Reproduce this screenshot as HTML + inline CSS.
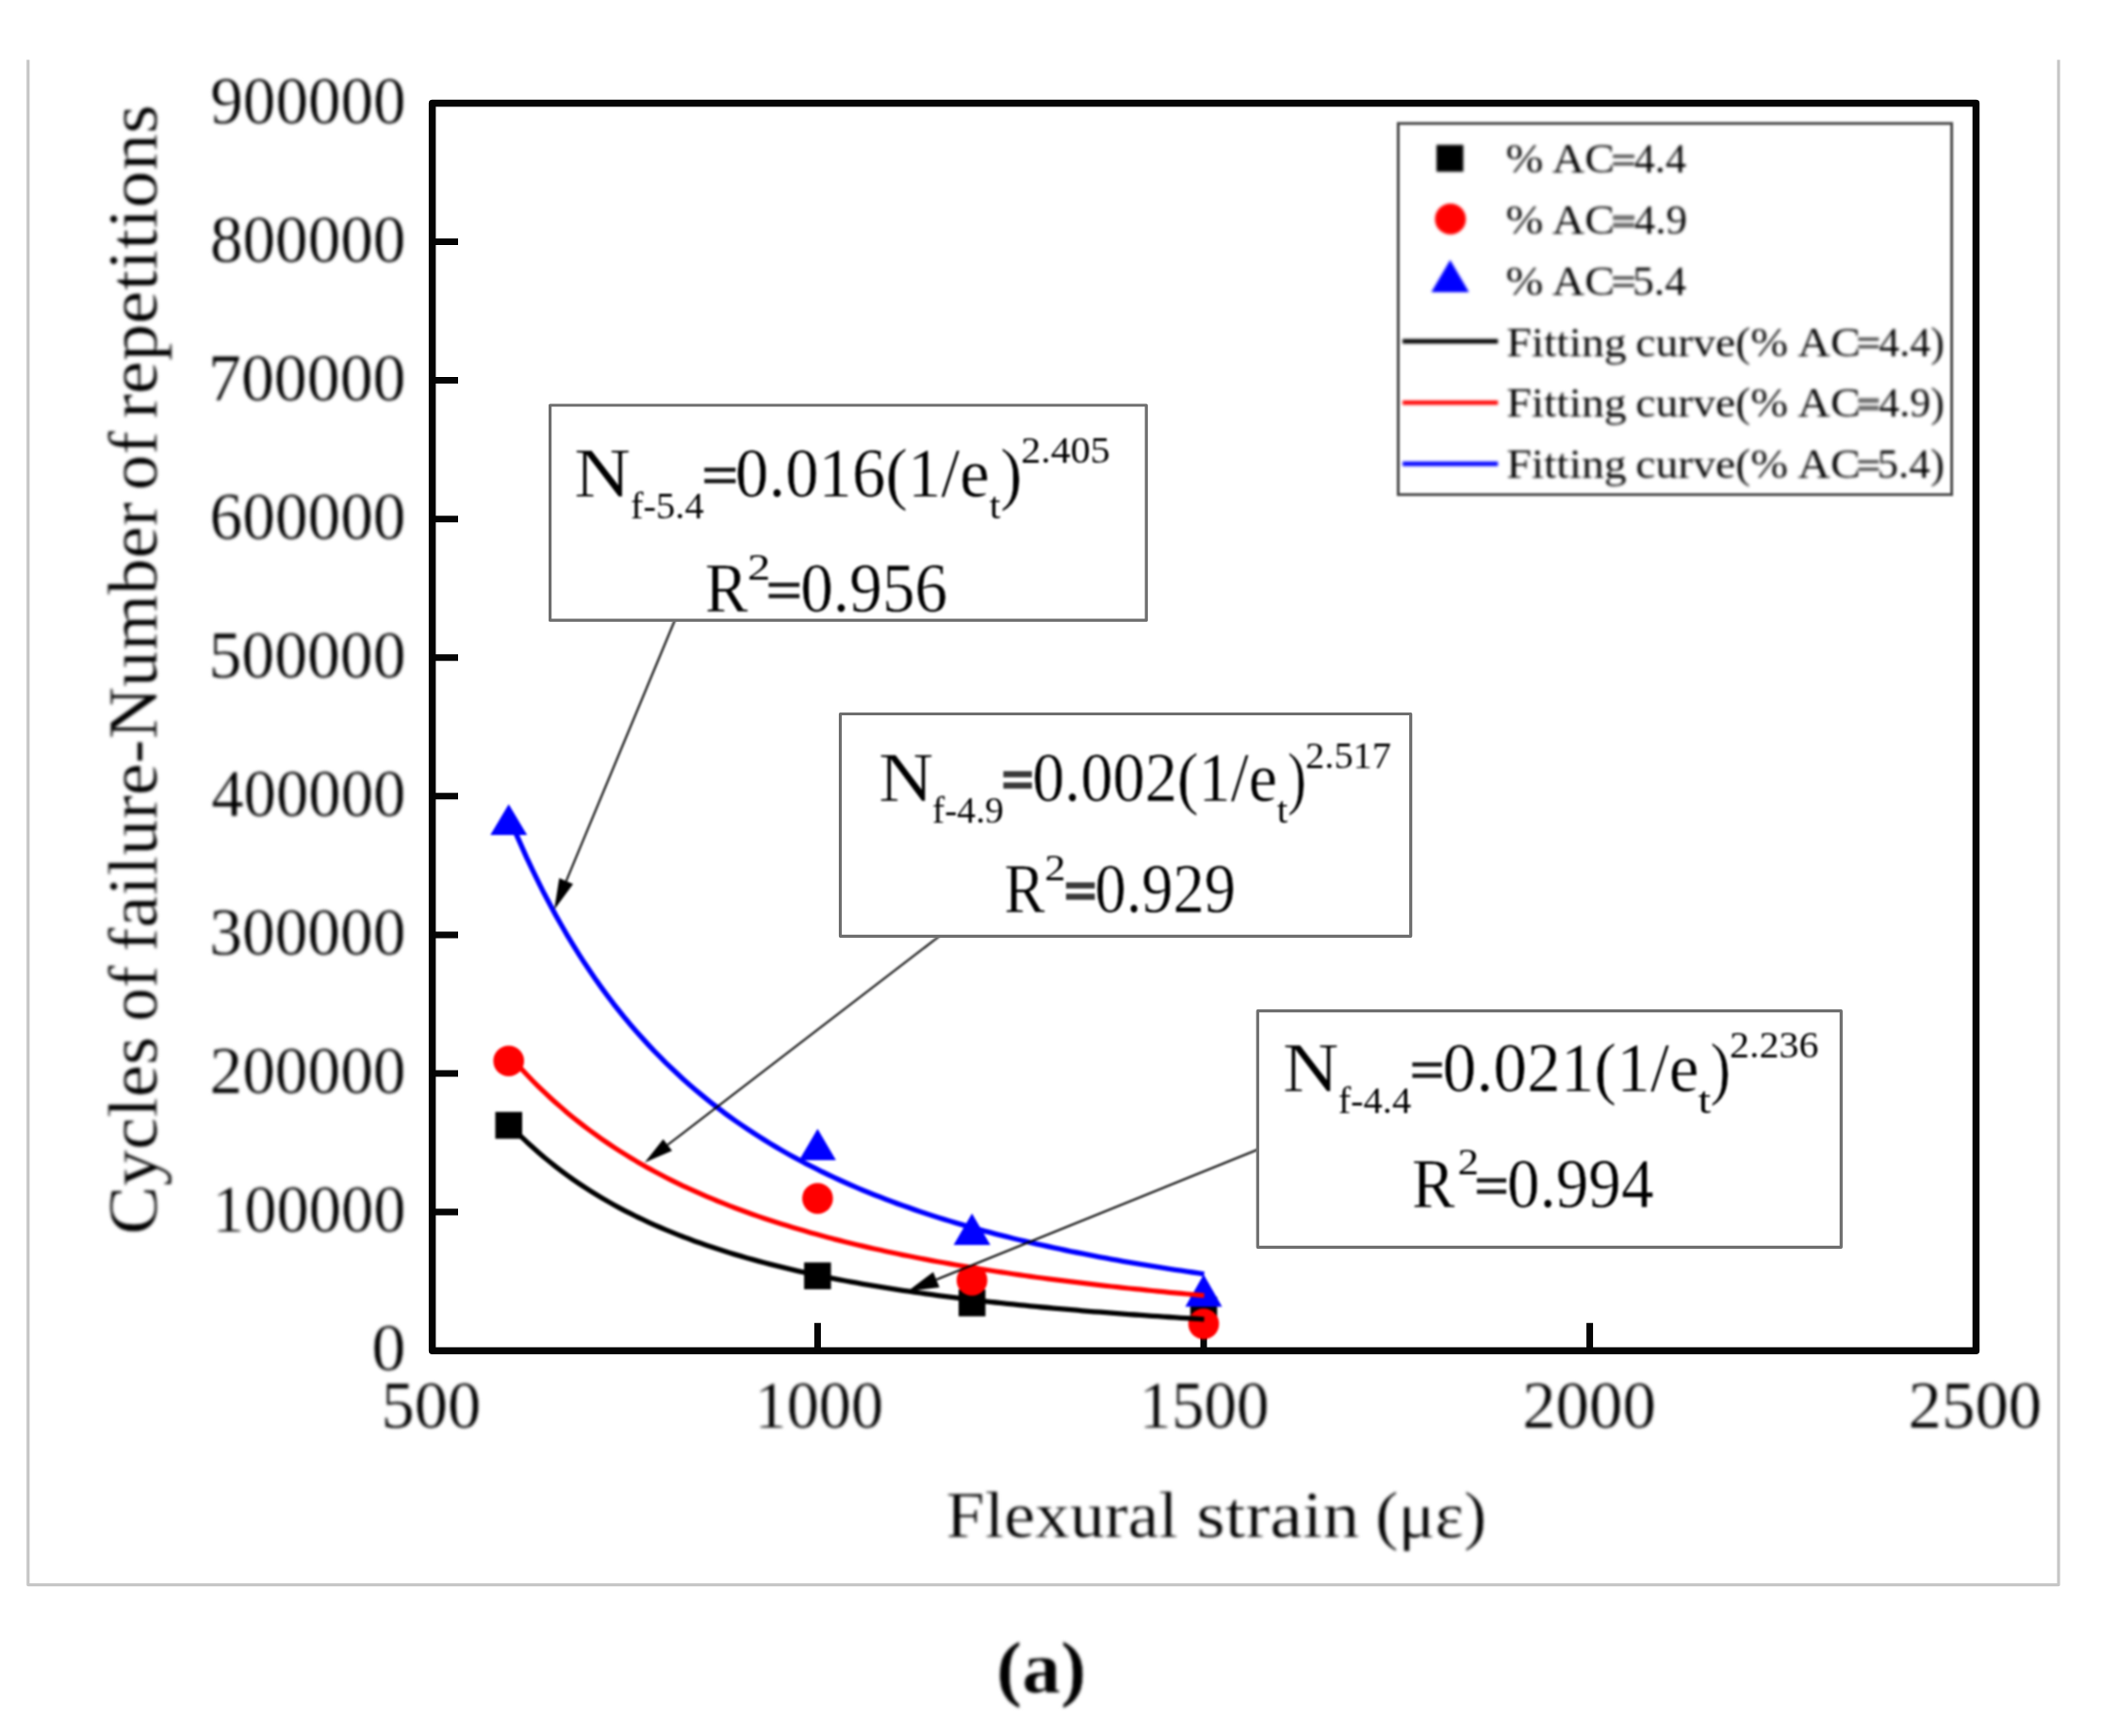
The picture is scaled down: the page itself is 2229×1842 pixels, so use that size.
<!DOCTYPE html>
<html lang="en"><head><meta charset="utf-8"><title>Fatigue curves (a)</title>
<style>html,body{margin:0;padding:0;background:#fff}body{width:2229px;height:1842px;overflow:hidden}svg{display:block}text{font-family:"Liberation Serif","DejaVu Serif",serif;fill:#000;font-kerning:none;font-variant-ligatures:none;white-space:pre;stroke:#fff;filter:blur(0.8px)}</style></head><body>
<svg width="2229" height="1842" viewBox="0 0 2229 1842">
<rect width="2229" height="1842" fill="#fff"/>
<path d="M29.8,63.4 V1681.6 H2184 V63.4" fill="none" stroke="#c6c6c6" stroke-width="3.2" stroke-linejoin="round"/>
<rect x="458.6" y="109.4" width="1637.8" height="1323.8" fill="none" stroke="#050505" stroke-width="7.5" stroke-linejoin="round"/>
<path d="M458.6,1286.1 H486.0 M458.6,1139.0 H486.0 M458.6,991.9 H486.0 M458.6,844.8 H486.0 M458.6,697.8 H486.0 M458.6,550.7 H486.0 M458.6,403.6 H486.0 M458.6,256.5 H486.0 M867.4,1433.2 V1403.8 M1277.0,1433.2 V1403.8 M1686.6,1433.2 V1403.8" stroke="#050505" stroke-width="7" fill="none"/>
<g style="filter:blur(0.8px)">
<rect x="525.5" y="1179.8" width="28.5" height="28.5" fill="#000"/>
<rect x="853.1" y="1339.5" width="28.5" height="28.5" fill="#000"/>
<rect x="1017.0" y="1368.2" width="28.5" height="28.5" fill="#000"/>
<rect x="1262.8" y="1375.8" width="28.5" height="28.5" fill="#000"/>
<circle cx="539.7" cy="1125.7" r="16.3" fill="#ff0000"/>
<circle cx="867.4" cy="1271.6" r="16.3" fill="#ff0000"/>
<circle cx="1031.2" cy="1358.4" r="16.3" fill="#ff0000"/>
<circle cx="1277.0" cy="1404.7" r="16.3" fill="#ff0000"/>
<polygon points="539.7,853.3 520.2,886.0 559.2,886.0" fill="#0000ff"/>
<polygon points="867.4,1197.8 847.9,1231.1 886.9,1231.1" fill="#0000ff"/>
<polygon points="1031.2,1287.6 1011.7,1320.9 1050.7,1320.9" fill="#0000ff"/>
<polygon points="1277.0,1352.3 1257.5,1386.6 1296.5,1386.6" fill="#0000ff"/>
<polyline points="540.5,1193.4 546.6,1199.8 552.8,1205.8 558.9,1211.7 565.1,1217.3 571.2,1222.7 577.3,1228.0 583.5,1233.0 589.6,1237.9 595.8,1242.6 601.9,1247.1 608.0,1251.5 614.2,1255.7 620.3,1259.8 626.5,1263.7 632.6,1267.5 638.8,1271.2 644.9,1274.8 651.0,1278.2 657.2,1281.6 663.3,1284.8 669.5,1287.9 675.6,1291.0 681.8,1293.9 687.9,1296.8 694.0,1299.6 700.2,1302.3 706.3,1304.9 712.5,1307.4 718.6,1309.9 724.7,1312.3 730.9,1314.6 737.0,1316.9 743.2,1319.1 749.3,1321.2 755.5,1323.3 761.6,1325.3 767.7,1327.3 773.9,1329.2 780.0,1331.1 786.2,1332.9 792.3,1334.7 798.4,1336.4 804.6,1338.1 810.7,1339.8 816.9,1341.4 823.0,1342.9 829.2,1344.4 835.3,1345.9 841.4,1347.4 847.6,1348.8 853.7,1350.2 859.9,1351.5 866.0,1352.8 872.1,1354.1 878.3,1355.4 884.4,1356.6 890.6,1357.8 896.7,1359.0 902.9,1360.1 909.0,1361.2 915.1,1362.3 921.3,1363.4 927.4,1364.4 933.6,1365.4 939.7,1366.4 945.8,1367.4 952.0,1368.4 958.1,1369.3 964.3,1370.2 970.4,1371.1 976.6,1372.0 982.7,1372.9 988.8,1373.7 995.0,1374.6 1001.1,1375.4 1007.3,1376.2 1013.4,1376.9 1019.5,1377.7 1025.7,1378.4 1031.8,1379.2 1038.0,1379.9 1044.1,1380.6 1050.3,1381.3 1056.4,1382.0 1062.5,1382.6 1068.7,1383.3 1074.8,1383.9 1081.0,1384.6 1087.1,1385.2 1093.2,1385.8 1099.4,1386.4 1105.5,1387.0 1111.7,1387.5 1117.8,1388.1 1124.0,1388.6 1130.1,1389.2 1136.2,1389.7 1142.4,1390.2 1148.5,1390.8 1154.7,1391.3 1160.8,1391.8 1166.9,1392.2 1173.1,1392.7 1179.2,1393.2 1185.4,1393.7 1191.5,1394.1 1197.7,1394.6 1203.8,1395.0 1209.9,1395.4 1216.1,1395.9 1222.2,1396.3 1228.4,1396.7 1234.5,1397.1 1240.6,1397.5 1246.8,1397.9 1252.9,1398.3 1259.1,1398.7 1265.2,1399.0 1271.4,1399.4 1277.5,1399.8" fill="none" stroke="#000" stroke-width="5.3" stroke-linejoin="round"/>
<polyline points="540.5,1119.9 546.6,1126.9 552.8,1133.7 558.9,1140.3 565.1,1146.7 571.2,1152.8 577.3,1158.7 583.5,1164.5 589.6,1170.0 595.8,1175.4 601.9,1180.7 608.0,1185.7 614.2,1190.6 620.3,1195.4 626.5,1200.0 632.6,1204.4 638.8,1208.8 644.9,1213.0 651.0,1217.1 657.2,1221.1 663.3,1224.9 669.5,1228.7 675.6,1232.4 681.8,1235.9 687.9,1239.4 694.0,1242.7 700.2,1246.0 706.3,1249.2 712.5,1252.3 718.6,1255.3 724.7,1258.3 730.9,1261.1 737.0,1263.9 743.2,1266.7 749.3,1269.3 755.5,1271.9 761.6,1274.5 767.7,1276.9 773.9,1279.4 780.0,1281.7 786.2,1284.0 792.3,1286.3 798.4,1288.5 804.6,1290.6 810.7,1292.7 816.9,1294.8 823.0,1296.8 829.2,1298.7 835.3,1300.6 841.4,1302.5 847.6,1304.3 853.7,1306.1 859.9,1307.9 866.0,1309.6 872.1,1311.3 878.3,1312.9 884.4,1314.6 890.6,1316.1 896.7,1317.7 902.9,1319.2 909.0,1320.7 915.1,1322.1 921.3,1323.6 927.4,1325.0 933.6,1326.3 939.7,1327.7 945.8,1329.0 952.0,1330.3 958.1,1331.6 964.3,1332.8 970.4,1334.0 976.6,1335.2 982.7,1336.4 988.8,1337.6 995.0,1338.7 1001.1,1339.8 1007.3,1340.9 1013.4,1342.0 1019.5,1343.0 1025.7,1344.1 1031.8,1345.1 1038.0,1346.1 1044.1,1347.1 1050.3,1348.0 1056.4,1349.0 1062.5,1349.9 1068.7,1350.8 1074.8,1351.7 1081.0,1352.6 1087.1,1353.5 1093.2,1354.3 1099.4,1355.2 1105.5,1356.0 1111.7,1356.8 1117.8,1357.6 1124.0,1358.4 1130.1,1359.2 1136.2,1359.9 1142.4,1360.7 1148.5,1361.4 1154.7,1362.2 1160.8,1362.9 1166.9,1363.6 1173.1,1364.3 1179.2,1365.0 1185.4,1365.6 1191.5,1366.3 1197.7,1367.0 1203.8,1367.6 1209.9,1368.2 1216.1,1368.9 1222.2,1369.5 1228.4,1370.1 1234.5,1370.7 1240.6,1371.3 1246.8,1371.8 1252.9,1372.4 1259.1,1373.0 1265.2,1373.5 1271.4,1374.1 1277.5,1374.6" fill="none" stroke="#ff0000" stroke-width="5.2" stroke-linejoin="round"/>
<polyline points="540.5,867.9 546.6,882.6 552.8,896.7 558.9,910.3 565.1,923.3 571.2,935.9 577.3,948.1 583.5,959.8 589.6,971.1 595.8,982.0 601.9,992.6 608.0,1002.7 614.2,1012.6 620.3,1022.1 626.5,1031.3 632.6,1040.2 638.8,1048.8 644.9,1057.1 651.0,1065.2 657.2,1073.0 663.3,1080.6 669.5,1087.9 675.6,1095.0 681.8,1101.9 687.9,1108.6 694.0,1115.1 700.2,1121.4 706.3,1127.6 712.5,1133.5 718.6,1139.3 724.7,1144.9 730.9,1150.4 737.0,1155.7 743.2,1160.9 749.3,1165.9 755.5,1170.8 761.6,1175.5 767.7,1180.2 773.9,1184.7 780.0,1189.1 786.2,1193.4 792.3,1197.5 798.4,1201.6 804.6,1205.6 810.7,1209.4 816.9,1213.2 823.0,1216.9 829.2,1220.5 835.3,1224.0 841.4,1227.4 847.6,1230.7 853.7,1234.0 859.9,1237.1 866.0,1240.2 872.1,1243.3 878.3,1246.2 884.4,1249.1 890.6,1252.0 896.7,1254.7 902.9,1257.4 909.0,1260.1 915.1,1262.7 921.3,1265.2 927.4,1267.7 933.6,1270.1 939.7,1272.5 945.8,1274.8 952.0,1277.1 958.1,1279.3 964.3,1281.4 970.4,1283.6 976.6,1285.7 982.7,1287.7 988.8,1289.7 995.0,1291.7 1001.1,1293.6 1007.3,1295.5 1013.4,1297.3 1019.5,1299.1 1025.7,1300.9 1031.8,1302.7 1038.0,1304.4 1044.1,1306.1 1050.3,1307.7 1056.4,1309.3 1062.5,1310.9 1068.7,1312.4 1074.8,1314.0 1081.0,1315.5 1087.1,1316.9 1093.2,1318.4 1099.4,1319.8 1105.5,1321.2 1111.7,1322.5 1117.8,1323.9 1124.0,1325.2 1130.1,1326.5 1136.2,1327.8 1142.4,1329.0 1148.5,1330.2 1154.7,1331.4 1160.8,1332.6 1166.9,1333.8 1173.1,1334.9 1179.2,1336.1 1185.4,1337.2 1191.5,1338.3 1197.7,1339.3 1203.8,1340.4 1209.9,1341.4 1216.1,1342.4 1222.2,1343.4 1228.4,1344.4 1234.5,1345.4 1240.6,1346.3 1246.8,1347.3 1252.9,1348.2 1259.1,1349.1 1265.2,1350.0 1271.4,1350.9 1277.5,1351.8" fill="none" stroke="#0000ff" stroke-width="5.4" stroke-linejoin="round"/>
<text x="225.06" y="1307.34" font-size="71.5" textLength="205.37" lengthAdjust="spacingAndGlyphs" stroke-width="0.45">100000</text>
<text x="222.53" y="1160.25" font-size="71.5" textLength="207.94" lengthAdjust="spacingAndGlyphs" stroke-width="0.45">200000</text>
<text x="222.25" y="1013.16" font-size="71.5" textLength="208.21" lengthAdjust="spacingAndGlyphs" stroke-width="0.45">300000</text>
<text x="224.23" y="866.07" font-size="71.5" textLength="206.21" lengthAdjust="spacingAndGlyphs" stroke-width="0.45">400000</text>
<text x="221.53" y="718.98" font-size="71.5" textLength="208.95" lengthAdjust="spacingAndGlyphs" stroke-width="0.45">500000</text>
<text x="222.60" y="571.89" font-size="71.5" textLength="207.87" lengthAdjust="spacingAndGlyphs" stroke-width="0.45">600000</text>
<text x="220.97" y="424.80" font-size="71.5" textLength="209.51" lengthAdjust="spacingAndGlyphs" stroke-width="0.45">700000</text>
<text x="222.94" y="277.71" font-size="71.5" textLength="207.52" lengthAdjust="spacingAndGlyphs" stroke-width="0.45">800000</text>
<text x="223.35" y="130.63" font-size="71.5" textLength="207.10" lengthAdjust="spacingAndGlyphs" stroke-width="0.45">900000</text>
<text x="394.22" y="1454.42" font-size="71.5" textLength="36.16" lengthAdjust="spacingAndGlyphs" stroke-width="0.45">0</text>
<text x="404.48" y="1514.52" font-size="71.5" textLength="105.84" lengthAdjust="spacingAndGlyphs" stroke-width="0.45">500</text>
<text x="800.47" y="1514.52" font-size="71.5" textLength="136.66" lengthAdjust="spacingAndGlyphs" stroke-width="0.45">1000</text>
<text x="1208.41" y="1514.52" font-size="71.5" textLength="138.05" lengthAdjust="spacingAndGlyphs" stroke-width="0.45">1500</text>
<text x="1615.16" y="1514.52" font-size="71.5" textLength="141.66" lengthAdjust="spacingAndGlyphs" stroke-width="0.45">2000</text>
<text x="2024.56" y="1514.52" font-size="71.5" textLength="141.66" lengthAdjust="spacingAndGlyphs" stroke-width="0.45">2500</text>
<text x="1003.55" y="1630.62" font-size="70.5" textLength="246.36" lengthAdjust="spacingAndGlyphs" stroke-width="0.45">Flexural</text>
<text x="1269.48" y="1630.62" font-size="70.5" textLength="172.92" lengthAdjust="spacingAndGlyphs" stroke-width="0.45">strain</text>
<text x="1459.38" y="1630.62" font-size="70.5" textLength="117.83" lengthAdjust="spacingAndGlyphs" stroke-width="0.45">(με)</text>
<g transform="translate(166.2,0) rotate(-90)">
<text x="-1309.99" y="0.23" font-size="74.5" textLength="210.00" lengthAdjust="spacingAndGlyphs" stroke-width="0.45">Cycles</text>
<text x="-1083.72" y="0.23" font-size="74.5" textLength="58.95" lengthAdjust="spacingAndGlyphs" stroke-width="0.45">of</text>
<text x="-1010.08" y="0.23" font-size="74.5" textLength="477.08" lengthAdjust="spacingAndGlyphs" stroke-width="0.45">failure-Number</text>
<text x="-520.19" y="0.23" font-size="74.5" textLength="62.72" lengthAdjust="spacingAndGlyphs" stroke-width="0.45">of</text>
<text x="-444.61" y="0.23" font-size="74.5" textLength="333.69" lengthAdjust="spacingAndGlyphs" stroke-width="0.45">repetitions</text>
</g>
<text x="1057.05" y="1795.55" font-size="78.5" textLength="95.50" lengthAdjust="spacingAndGlyphs" stroke-width="0.50" font-weight="bold">(a)</text>
<rect x="1483.4" y="131" width="587.2" height="393.8" fill="#fff" stroke="#4a4a4a" stroke-width="3"/>
<g style="filter:blur(0.8px)">
<rect x="1524.0" y="153.7" width="28.5" height="28.5" fill="#000"/>
<circle cx="1538.8" cy="232.4" r="16.4" fill="#ff0000"/>
<polygon points="1538.5,275.8 1518.5,310.0 1558.5,310.0" fill="#0000ff"/>
<line x1="1488" y1="362.1" x2="1589.2" y2="362.1" stroke="#000" stroke-width="4.6"/>
<line x1="1488" y1="427.2" x2="1589.2" y2="427.2" stroke="#ff0000" stroke-width="4.6"/>
<line x1="1488" y1="492.1" x2="1589.2" y2="492.1" stroke="#0000ff" stroke-width="4.6"/>
</g>
<text x="1597.62" y="183.44" font-size="44.1" textLength="39.86" lengthAdjust="spacingAndGlyphs" stroke-width="0.08">%</text>
<text x="1646.69" y="183.44" font-size="44.1" textLength="66.28" lengthAdjust="spacingAndGlyphs" stroke-width="0.08">AC</text>
<text x="1709.74" y="182.90" font-size="38.0" textLength="25.57" lengthAdjust="spacingAndGlyphs" style="fill:#444;stroke:#444;stroke-width:1.40px">=</text>
<text x="1733.80" y="183.44" font-size="44.1" textLength="55.14" lengthAdjust="spacingAndGlyphs" stroke-width="0.08">4.4</text>
<text x="1598.18" y="377.64" font-size="44.1" textLength="127.57" lengthAdjust="spacingAndGlyphs" stroke-width="0.08">Fitting</text>
<text x="1735.34" y="377.64" font-size="44.1" textLength="161.63" lengthAdjust="spacingAndGlyphs" stroke-width="0.08">curve(%</text>
<text x="1907.29" y="377.64" font-size="44.1" textLength="66.60" lengthAdjust="spacingAndGlyphs" stroke-width="0.08">AC</text>
<text x="1970.13" y="377.10" font-size="38.0" textLength="24.60" lengthAdjust="spacingAndGlyphs" style="fill:#444;stroke:#444;stroke-width:1.40px">=</text>
<text x="1993.30" y="377.64" font-size="44.1" textLength="69.57" lengthAdjust="spacingAndGlyphs" stroke-width="0.08">4.4)</text>
<text x="1597.62" y="248.04" font-size="44.1" textLength="39.86" lengthAdjust="spacingAndGlyphs" stroke-width="0.08">%</text>
<text x="1646.69" y="248.04" font-size="44.1" textLength="66.28" lengthAdjust="spacingAndGlyphs" stroke-width="0.08">AC</text>
<text x="1710.71" y="247.50" font-size="38.0" textLength="23.63" lengthAdjust="spacingAndGlyphs" style="fill:#6a6a6a;stroke:#6a6a6a;stroke-width:3.00px">=</text>
<text x="1733.78" y="248.04" font-size="44.1" textLength="56.31" lengthAdjust="spacingAndGlyphs" stroke-width="0.08">4.9</text>
<text x="1598.18" y="442.34" font-size="44.1" textLength="127.57" lengthAdjust="spacingAndGlyphs" stroke-width="0.08">Fitting</text>
<text x="1735.34" y="442.34" font-size="44.1" textLength="161.63" lengthAdjust="spacingAndGlyphs" stroke-width="0.08">curve(%</text>
<text x="1907.29" y="442.34" font-size="44.1" textLength="66.60" lengthAdjust="spacingAndGlyphs" stroke-width="0.08">AC</text>
<text x="1971.10" y="441.80" font-size="38.0" textLength="22.66" lengthAdjust="spacingAndGlyphs" style="fill:#6a6a6a;stroke:#6a6a6a;stroke-width:3.00px">=</text>
<text x="1993.30" y="442.34" font-size="44.1" textLength="69.57" lengthAdjust="spacingAndGlyphs" stroke-width="0.08">4.9)</text>
<text x="1597.62" y="312.64" font-size="44.1" textLength="39.86" lengthAdjust="spacingAndGlyphs" stroke-width="0.08">%</text>
<text x="1646.69" y="312.64" font-size="44.1" textLength="66.28" lengthAdjust="spacingAndGlyphs" stroke-width="0.08">AC</text>
<text x="1709.74" y="312.10" font-size="38.0" textLength="25.57" lengthAdjust="spacingAndGlyphs" style="fill:#444;stroke:#444;stroke-width:1.40px">=</text>
<text x="1732.01" y="312.64" font-size="44.1" textLength="56.94" lengthAdjust="spacingAndGlyphs" stroke-width="0.08">5.4</text>
<text x="1598.18" y="507.04" font-size="44.1" textLength="127.57" lengthAdjust="spacingAndGlyphs" stroke-width="0.08">Fitting</text>
<text x="1735.34" y="507.04" font-size="44.1" textLength="161.63" lengthAdjust="spacingAndGlyphs" stroke-width="0.08">curve(%</text>
<text x="1907.29" y="507.04" font-size="44.1" textLength="66.60" lengthAdjust="spacingAndGlyphs" stroke-width="0.08">AC</text>
<text x="1970.13" y="506.50" font-size="38.0" textLength="24.60" lengthAdjust="spacingAndGlyphs" style="fill:#444;stroke:#444;stroke-width:1.40px">=</text>
<text x="1991.54" y="507.04" font-size="44.1" textLength="71.39" lengthAdjust="spacingAndGlyphs" stroke-width="0.08">5.4)</text>
<line x1="716.0" y1="658.0" x2="600.7" y2="934.8" stroke="#000" stroke-width="2.0"/>
<polygon points="588.0,965.2 593.3,931.8 608.0,937.9" fill="#000"/>
<line x1="996.7" y1="993.3" x2="708.3" y2="1214.8" stroke="#000" stroke-width="2.0"/>
<polygon points="684.0,1233.4 703.6,1208.7 713.0,1220.9" fill="#000"/>
<line x1="1334.4" y1="1219.7" x2="993.4" y2="1357.8" stroke="#000" stroke-width="2.0"/>
<polygon points="962.8,1370.2 990.1,1349.7 996.7,1365.9" fill="#000"/>
</g>
<rect x="583.6" y="430.0" width="632.6" height="228.2" fill="#fff" stroke="#6e6e6e" stroke-width="3.2" stroke-linejoin="round"/>
<rect x="891.5" y="757.5" width="605.2" height="235.8" fill="#fff" stroke="#6e6e6e" stroke-width="3.2" stroke-linejoin="round"/>
<rect x="1334.3" y="1072.7" width="619.0" height="250.6" fill="#fff" stroke="#6e6e6e" stroke-width="3.2" stroke-linejoin="round"/>
<text x="608.98" y="526.93" font-size="73.5" textLength="60.05" lengthAdjust="spacingAndGlyphs" stroke-width="0.45">N</text>
<text x="668.94" y="549.71" font-size="39.0" textLength="77.90" lengthAdjust="spacingAndGlyphs" stroke-width="0.01">f-5.4</text>
<text x="744.78" y="523.80" font-size="60.0" textLength="38.18" lengthAdjust="spacingAndGlyphs" style="fill:#1a1a1a;stroke:#1a1a1a;stroke-width:1.50px">=</text>
<text x="780.08" y="526.93" font-size="73.5" textLength="269.50" lengthAdjust="spacingAndGlyphs" stroke-width="0.45">0.016(1/e</text>
<text x="1049.78" y="549.71" font-size="39.0" textLength="11.67" lengthAdjust="spacingAndGlyphs" stroke-width="0.01">t</text>
<text x="1061.24" y="526.93" font-size="73.5" textLength="23.14" lengthAdjust="spacingAndGlyphs" stroke-width="0.45">)</text>
<text x="1083.25" y="491.11" font-size="39.0" textLength="94.50" lengthAdjust="spacingAndGlyphs" stroke-width="0.01">2.405</text>
<text x="748.01" y="649.23" font-size="73.5" textLength="45.41" lengthAdjust="spacingAndGlyphs" stroke-width="0.45">R</text>
<text x="793.04" y="615.01" font-size="39.0" textLength="24.46" lengthAdjust="spacingAndGlyphs" stroke-width="0.01">2</text>
<text x="812.93" y="646.10" font-size="60.0" textLength="37.57" lengthAdjust="spacingAndGlyphs" style="fill:#1a1a1a;stroke:#1a1a1a;stroke-width:1.50px">=</text>
<text x="849.13" y="649.23" font-size="73.5" textLength="156.16" lengthAdjust="spacingAndGlyphs" stroke-width="0.45">0.956</text>
<text x="931.94" y="850.43" font-size="73.5" textLength="58.44" lengthAdjust="spacingAndGlyphs" stroke-width="0.45">N</text>
<text x="988.97" y="873.21" font-size="39.0" textLength="75.96" lengthAdjust="spacingAndGlyphs" stroke-width="0.01">f-4.9</text>
<text x="1063.21" y="847.30" font-size="60.0" textLength="32.72" lengthAdjust="spacingAndGlyphs" style="fill:#3a3a3a;stroke:#3a3a3a;stroke-width:3.40px">=</text>
<text x="1095.17" y="850.43" font-size="73.5" textLength="259.92" lengthAdjust="spacingAndGlyphs" stroke-width="0.45">0.002(1/e</text>
<text x="1354.79" y="873.21" font-size="39.0" textLength="11.46" lengthAdjust="spacingAndGlyphs" stroke-width="0.01">t</text>
<text x="1366.05" y="850.43" font-size="73.5" textLength="19.90" lengthAdjust="spacingAndGlyphs" stroke-width="0.45">)</text>
<text x="1385.12" y="814.61" font-size="39.0" textLength="90.85" lengthAdjust="spacingAndGlyphs" stroke-width="0.01">2.517</text>
<text x="1065.42" y="968.23" font-size="73.5" textLength="43.00" lengthAdjust="spacingAndGlyphs" stroke-width="0.45">R</text>
<text x="1108.23" y="934.01" font-size="39.0" textLength="22.34" lengthAdjust="spacingAndGlyphs" stroke-width="0.01">2</text>
<text x="1129.69" y="965.10" font-size="60.0" textLength="32.97" lengthAdjust="spacingAndGlyphs" style="fill:#3a3a3a;stroke:#3a3a3a;stroke-width:3.40px">=</text>
<text x="1161.44" y="968.23" font-size="73.5" textLength="149.61" lengthAdjust="spacingAndGlyphs" stroke-width="0.45">0.929</text>
<text x="1360.89" y="1158.22" font-size="73.5" textLength="59.73" lengthAdjust="spacingAndGlyphs" stroke-width="0.45">N</text>
<text x="1419.65" y="1181.01" font-size="39.0" textLength="77.49" lengthAdjust="spacingAndGlyphs" stroke-width="0.01">f-4.4</text>
<text x="1496.06" y="1155.10" font-size="60.0" textLength="36.12" lengthAdjust="spacingAndGlyphs" style="fill:#1a1a1a;stroke:#1a1a1a;stroke-width:1.50px">=</text>
<text x="1530.55" y="1158.22" font-size="73.5" textLength="271.95" lengthAdjust="spacingAndGlyphs" stroke-width="0.45">0.021(1/e</text>
<text x="1801.41" y="1181.01" font-size="39.0" textLength="13.68" lengthAdjust="spacingAndGlyphs" stroke-width="0.01">t</text>
<text x="1814.59" y="1158.22" font-size="73.5" textLength="21.59" lengthAdjust="spacingAndGlyphs" stroke-width="0.45">)</text>
<text x="1835.05" y="1122.41" font-size="39.0" textLength="94.30" lengthAdjust="spacingAndGlyphs" stroke-width="0.01">2.236</text>
<text x="1498.01" y="1280.62" font-size="73.5" textLength="45.41" lengthAdjust="spacingAndGlyphs" stroke-width="0.45">R</text>
<text x="1546.52" y="1246.41" font-size="39.0" textLength="22.47" lengthAdjust="spacingAndGlyphs" stroke-width="0.01">2</text>
<text x="1564.58" y="1277.50" font-size="60.0" textLength="35.87" lengthAdjust="spacingAndGlyphs" style="fill:#1a1a1a;stroke:#1a1a1a;stroke-width:1.50px">=</text>
<text x="1599.05" y="1280.62" font-size="73.5" textLength="155.36" lengthAdjust="spacingAndGlyphs" stroke-width="0.45">0.994</text>
</svg></body></html>
